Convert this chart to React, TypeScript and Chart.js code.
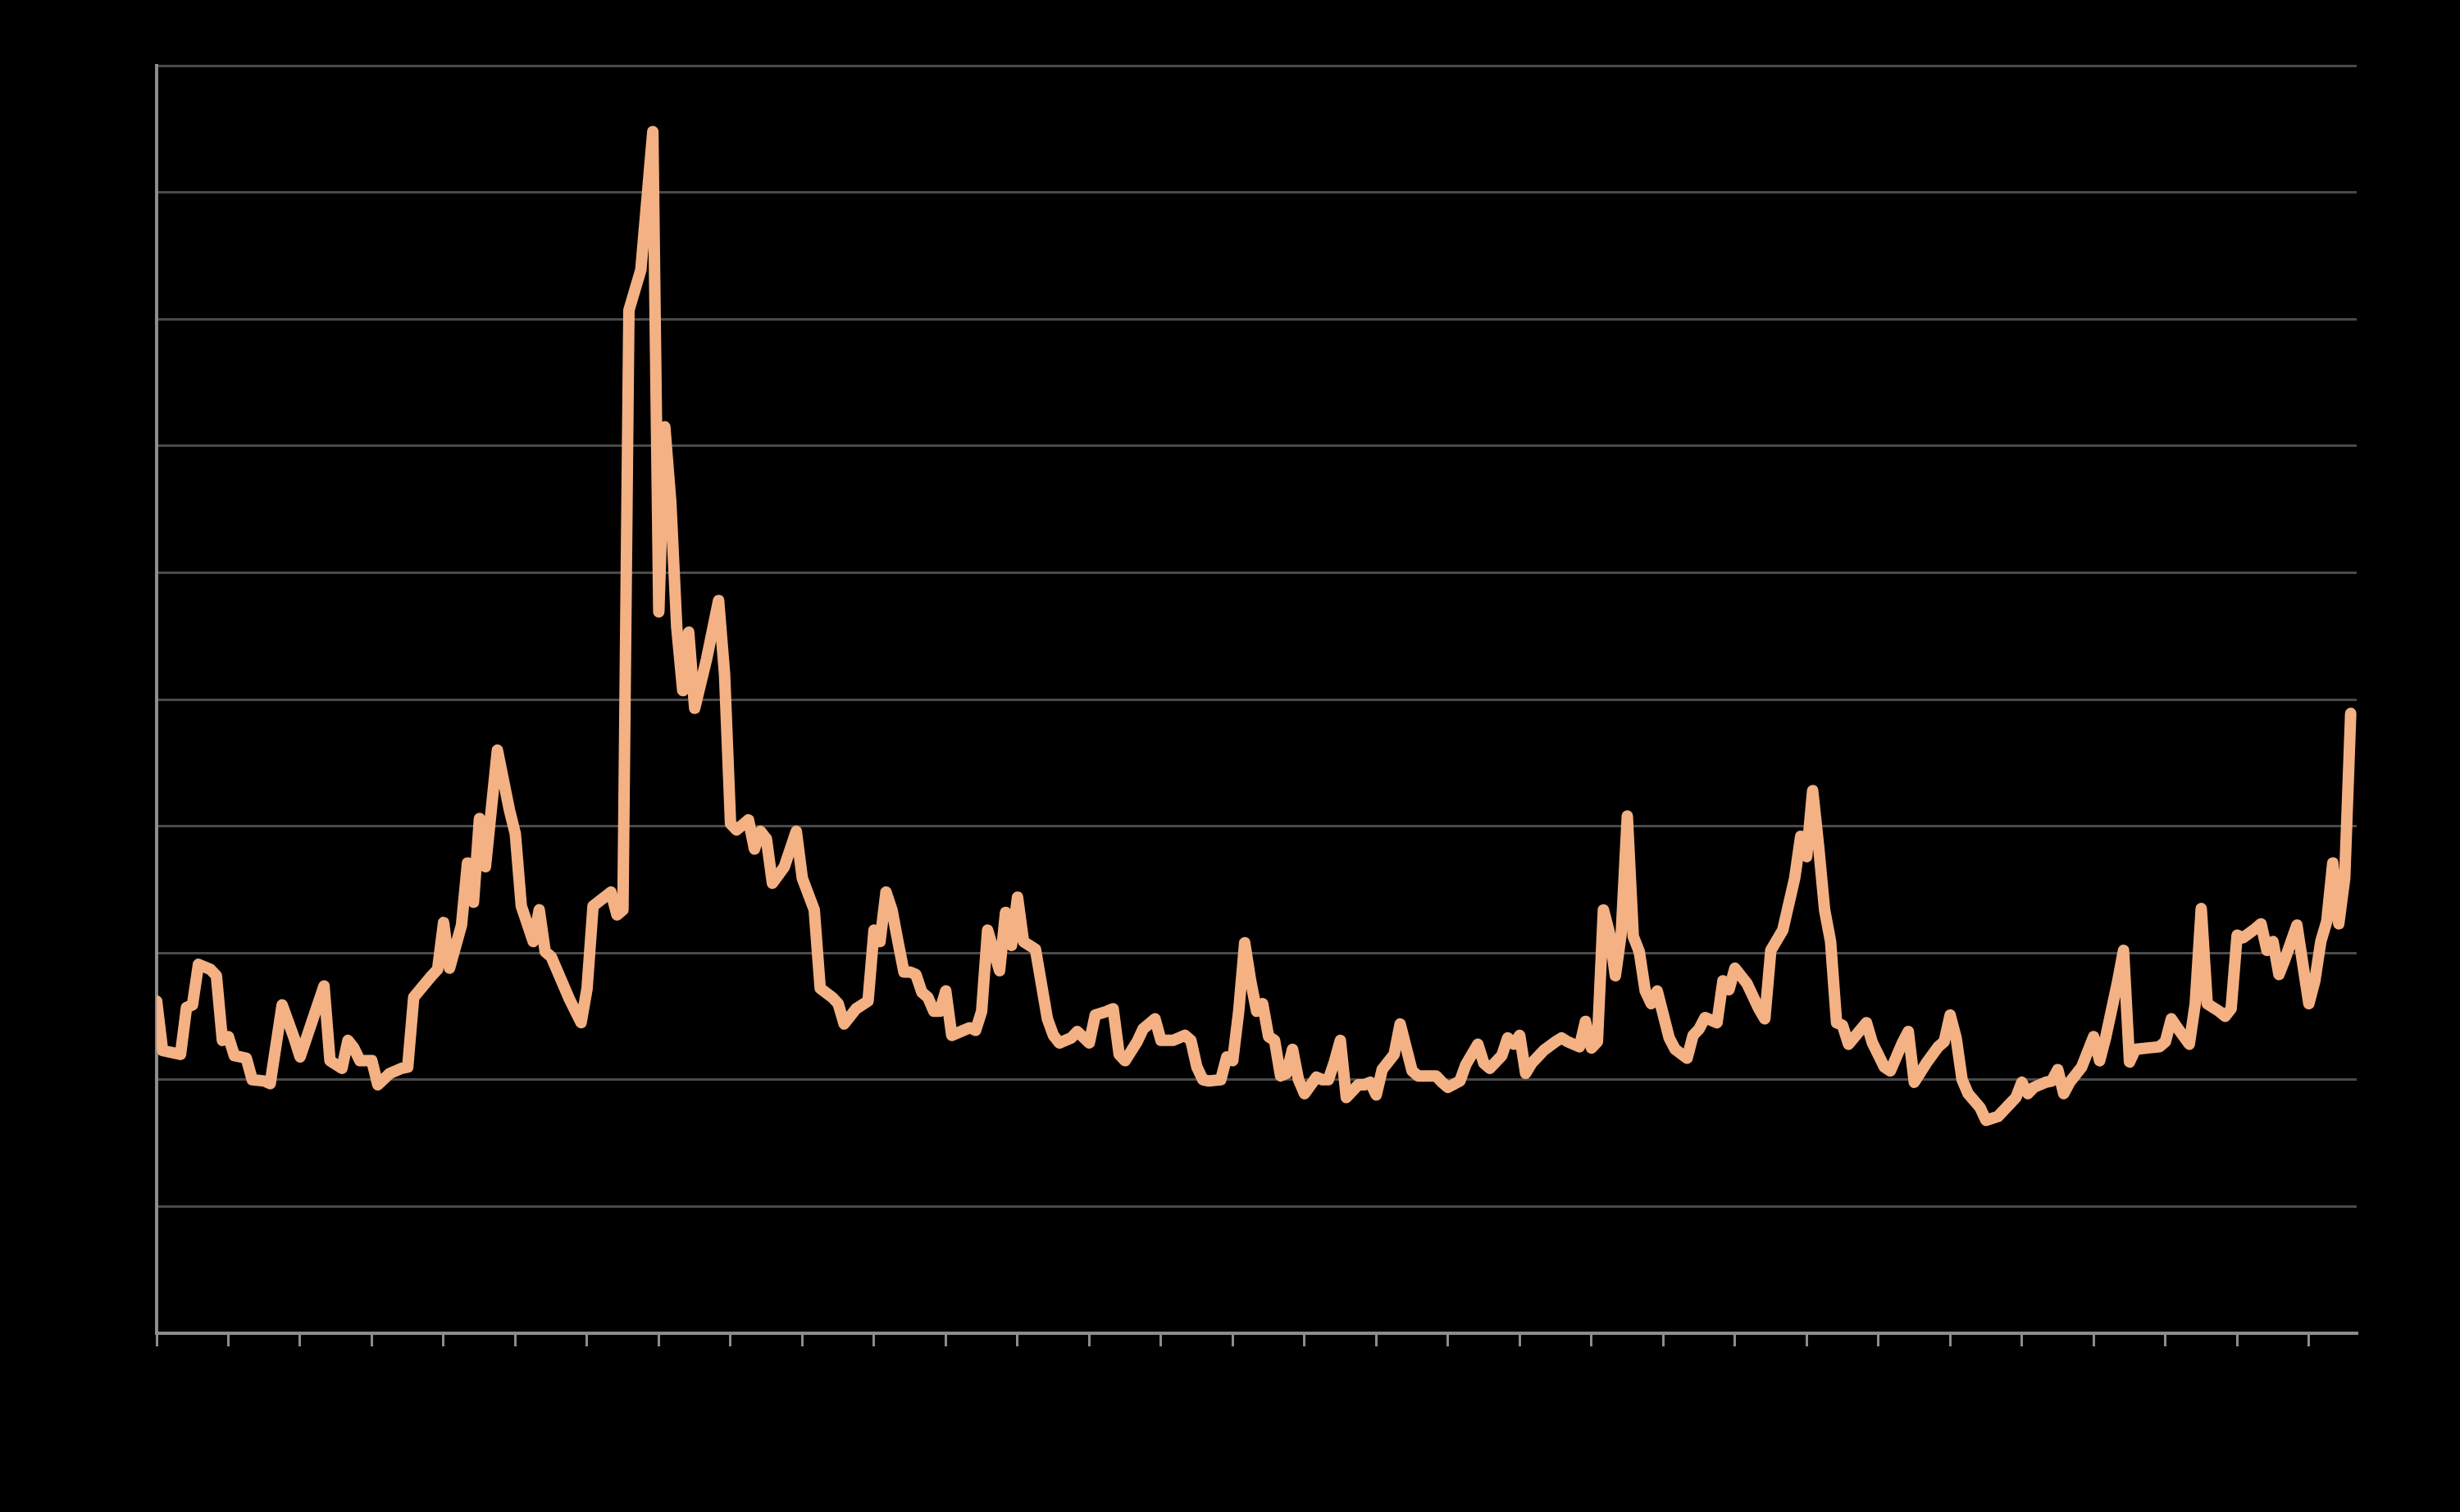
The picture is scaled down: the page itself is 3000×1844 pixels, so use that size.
import React, { useEffect, useRef } from "react";
import { Chart, registerables } from "chart.js";

Chart.register(...registerables);

// Month index (0 = first month of the series) for each read vertex
const months = [
  0, 1, 4, 5, 6, 7, 9, 10, 11, 12, 13, 15, 16, 18, 19, 21, 23, 24, 28, 29,
  31, 32, 33, 34, 36, 37, 39, 41, 42, 43, 46, 47, 48, 49, 51, 52, 53, 54, 55, 57,
  59, 60, 61, 63, 64, 65, 66, 69, 71, 72, 73, 76, 77, 78, 79, 81, 83, 84, 85, 86,
  87, 88, 89, 90, 92, 94, 95, 96, 97, 99, 100, 101, 102, 103, 105, 107, 108, 110, 111, 113,
  114, 115, 117, 119, 120, 121, 122, 123, 124, 125, 126, 127, 128, 129, 130, 131, 132, 133, 135, 136,
  137, 138, 139, 140, 141, 142, 143, 144, 145, 147, 149, 150, 151, 153, 154, 156, 157, 159, 160, 161,
  162, 164, 165, 167, 168, 170, 172, 173, 174, 175, 176, 178, 179, 180, 181, 182, 183, 184, 185, 186,
  187, 188, 189, 190, 191, 192, 194, 195, 196, 197, 198, 199, 201, 202, 203, 204, 205, 206, 207, 208,
  210, 211, 214, 215, 216, 218, 219, 221, 222, 223, 225, 226, 227, 228, 229, 230, 232, 234, 235, 236,
  238, 239, 240, 241, 242, 243, 244, 245, 246, 247, 248, 249, 250, 251, 253, 254, 256, 257, 258, 259,
  261, 262, 263, 264, 266, 268, 269, 270, 272, 274, 275, 276, 277, 278, 279, 280, 281, 282, 283, 286,
  287, 289, 290, 292, 293, 294, 296, 298, 299, 300, 301, 302, 303, 305, 306, 308, 310, 311, 312, 313,
  314, 316, 317, 318, 319, 320, 322, 324, 325, 326, 328, 329, 330, 331, 333, 335, 336, 337, 338, 340,
  341, 342, 343, 345, 346, 347, 348, 349, 351, 352, 353, 354, 355, 356, 358, 360, 361, 362, 363, 364,
  365, 366, 367,
];

// Series value at each vertex (axis runs 0 to 10)
const values = [
  2.62, 2.23, 2.2, 2.57, 2.59, 2.91, 2.87, 2.82, 2.31, 2.34, 2.19, 2.17, 2.0, 1.99, 1.97, 2.59, 2.33, 2.18, 2.74, 2.15,
  2.09, 2.31, 2.25, 2.15, 2.15, 1.96, 2.05, 2.09, 2.1, 2.65, 2.82, 2.87, 3.24, 2.88, 3.22, 3.71, 3.4, 4.06, 3.68, 4.6,
  4.13, 3.94, 3.37, 3.09, 3.34, 3.01, 2.97, 2.64, 2.45, 2.72, 3.37, 3.48, 3.3, 3.34, 8.07, 8.39, 9.48, 5.69, 7.15, 6.56,
  5.57, 5.07, 5.53, 4.93, 5.32, 5.78, 5.2, 4.02, 3.97, 4.05, 3.82, 3.96, 3.9, 3.55, 3.68, 3.96, 3.59, 3.34, 2.72, 2.65,
  2.6, 2.44, 2.56, 2.62, 3.18, 3.09, 3.48, 3.34, 3.09, 2.85, 2.85, 2.83, 2.69, 2.65, 2.54, 2.54, 2.7, 2.35, 2.39, 2.41,
  2.39, 2.54, 3.18, 3.02, 2.86, 3.32, 3.06, 3.44, 3.09, 3.03, 2.48, 2.35, 2.29, 2.33, 2.38, 2.29, 2.51, 2.54, 2.56, 2.2,
  2.15, 2.3, 2.4, 2.48, 2.31, 2.31, 2.35, 2.31, 2.1, 2.0, 1.99, 2.0, 2.18, 2.15, 2.54, 3.08, 2.78, 2.54, 2.6, 2.34,
  2.31, 2.03, 2.05, 2.24, 2.0, 1.89, 2.02, 2.0, 2.0, 2.14, 2.31, 1.86, 1.96, 1.96, 1.98, 1.88, 2.08, 2.14, 2.2, 2.44,
  2.07, 2.03, 2.03, 1.98, 1.94, 1.99, 2.12, 2.28, 2.13, 2.09, 2.19, 2.33, 2.28, 2.35, 2.05, 2.13, 2.23, 2.3, 2.33, 2.3,
  2.26, 2.46, 2.25, 2.3, 3.34, 3.16, 2.82, 3.16, 4.08, 3.13, 3.01, 2.7, 2.6, 2.7, 2.33, 2.24, 2.17, 2.35, 2.4, 2.49,
  2.45, 2.78, 2.71, 2.88, 2.76, 2.56, 2.48, 3.02, 3.18, 3.59, 3.92, 3.76, 4.28, 3.84, 3.34, 3.09, 2.45, 2.43, 2.28, 2.45,
  2.29, 2.1, 2.07, 2.29, 2.38, 1.98, 2.13, 2.26, 2.3, 2.51, 2.33, 2.0, 1.89, 1.78, 1.68, 1.71, 1.81, 1.86, 1.98, 1.89,
  1.94, 1.98, 1.99, 2.08, 1.89, 1.98, 2.1, 2.34, 2.15, 2.33, 2.77, 3.02, 2.14, 2.24, 2.25, 2.26, 2.3, 2.48, 2.41, 2.28,
  2.6, 3.35, 2.6, 2.54, 2.5, 2.56, 3.14, 3.12, 3.19, 3.23, 3.02, 3.09, 2.83, 2.95, 3.22, 2.6, 2.78, 3.09, 3.25, 3.71,
  3.23, 3.59, 4.89,
];

// Category tick marks on the x axis (every 12 months), and the axis span
const xTickMonths = [
  0, 12, 24, 36, 48, 60, 72, 84, 96, 108, 120, 132, 144, 156, 168, 180, 192, 204, 216, 228,
  240, 252, 264, 276, 288, 300, 312, 324, 336, 348, 360,
];
const xMax = 368;
const yMin = 0;
const yMax = 10;
const yStep = 1;

export default function App() {
  const ref = useRef<HTMLCanvasElement>(null);

  useEffect(() => {
    document.body.style.margin = "0";
    document.body.style.background = "#000000";
    document.documentElement.style.background = "#000000";
    const canvas = ref.current;
    if (!canvas) return;
    const chart = new Chart(canvas, {
      type: "line",
      data: {
        datasets: [
          {
            data: months.map((m, i) => ({ x: m, y: values[i] })),
            borderColor: "#F4B183",
            backgroundColor: "#F4B183",
            borderWidth: 14,
            pointRadius: 0,
            pointHoverRadius: 0,
            tension: 0,
            fill: false,
            borderJoinStyle: "round",
            borderCapStyle: "round",
          },
        ],
      },
      options: {
        responsive: false,
        animation: false,
        events: [],
        layout: { padding: { left: 191, top: 80, right: 126, bottom: 202 } },
        plugins: {
          legend: { display: false },
          tooltip: { enabled: false },
          title: { display: false },
        },
        scales: {
          x: {
            type: "linear",
            min: 0,
            max: xMax,
            afterBuildTicks: (scale: any) => {
              scale.ticks = xTickMonths.map((v) => ({ value: v }));
            },
            ticks: { display: false },
            grid: {
              drawOnChartArea: false,
              drawTicks: true,
              tickLength: 16,
              tickWidth: 3,
              tickColor: "#8c8c8c",
              color: "#8c8c8c",
              lineWidth: 3,
            },
            border: { display: true, color: "#8c8c8c", width: 4 },
          },
          y: {
            type: "linear",
            min: yMin,
            max: yMax,
            ticks: { display: false, stepSize: yStep },
            grid: {
              color: "#4a4a4a",
              lineWidth: 3,
              drawTicks: false,
            },
            border: { display: true, color: "#8c8c8c", width: 4 },
          },
        },
      },
    });
    return () => chart.destroy();
  }, []);

  return (
    <canvas
      ref={ref}
      width={3000}
      height={1844}
      style={{ display: "block", width: 3000, height: 1844 }}
    />
  );
}
